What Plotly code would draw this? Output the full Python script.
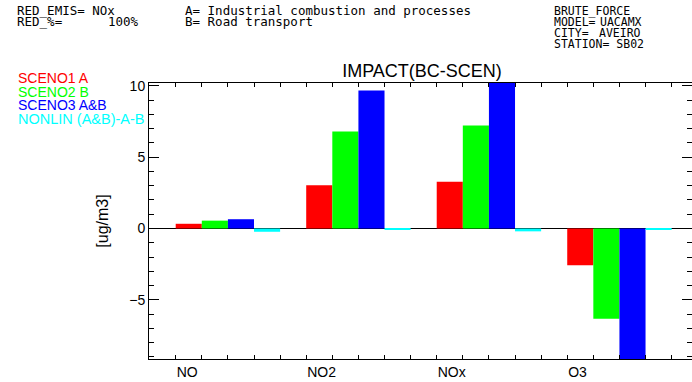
import plotly.graph_objects as go

# Species on the x axis and scenario impacts (BC - SCEN), ug/m3
species = ["NO", "NO2", "NOx", "O3"]
sceno1_a = [0.33, 3.03, 3.27, -2.57]
sceno2_b = [0.55, 6.80, 7.22, -6.32]
sceno3_ab = [0.65, 9.67, 10.2, -9.15]
nonlin = [-0.23, -0.05, -0.20, -0.05]

series_names = ["SCENO1 A", "SCENO2 B", "SCENO3 A&B", "NONLIN (A&B)-A-B"]
series_values = [sceno1_a, sceno2_b, sceno3_ab, nonlin]
series_colors = ["#ff0000", "#00ff00", "#0000ff", "#00ffff"]

y_ticks = [-5, 0, 5, 10]
y_range = [-9.15, 10.2]

W, H = 692, 382
L, R, T, B = 149, 692, 83, 359  # plot area in pixels

x_pos = list(range(len(species)))

fig = go.Figure()
for name, vals, col in zip(series_names, series_values, series_colors):
    fig.add_trace(go.Bar(x=x_pos, y=vals, name=name, marker_color=col,
                         marker_line_width=0, showlegend=False))

FONT = "Liberation Sans, Arial, sans-serif"
HEAD_FONT = "DejaVu Sans Mono, monospace"


def px_x(px):
    return (px - L) / (R - L)


def px_y(py):
    return (B - py) / (B - T)


ann = []
# header block: run settings (left) and station info (right)
header = [
    ("RED_EMIS= NOx", 15, 11, 12.5),
    ("RED_%=", 15, 22, 12.5),
    ("100%", 106, 22, 12.5),
    ("A= Industrial combustion and processes", 183, 11, 12.5),
    ("B= Road transport", 183, 22, 12.5),
    ("BRUTE_FORCE", 552, 11, 11.5),
    ("MODEL=", 552, 22, 11.5),
    ("UACAMX", 598, 22, 11.5),
    ("CITY=", 552, 33, 11.5),
    ("AVEIRO", 597, 33, 11.5),
    ("STATION= SB02", 552, 44, 11.5),
]
for txt, x, y, sz in header:
    ann.append(dict(text=txt, x=px_x(x), y=px_y(y), xref="paper", yref="paper",
                    xanchor="left", yanchor="middle", showarrow=False,
                    font=dict(family=HEAD_FONT, size=sz, color="black")))

# colour-coded series key
for i, (name, col) in enumerate(zip(series_names, series_colors)):
    ann.append(dict(text=name, x=px_x(16), y=px_y(78 + 13.5 * i), xref="paper", yref="paper",
                    xanchor="left", yanchor="middle", showarrow=False,
                    font=dict(family=FONT, size=14.5 if i == 3 else 14, color=col)))

fig.update_layout(
    width=W, height=H,
    margin=dict(l=L, r=W - R, t=T, b=H - B, pad=0),
    paper_bgcolor="white", plot_bgcolor="white",
    barmode="group", bargap=0.2, bargroupgap=0,
    title=dict(text="IMPACT(BC-SCEN)", x=px_x(422), xref="paper", xanchor="center",
               y=1 - 71 / H, yref="container", yanchor="middle",
               font=dict(family=FONT, size=18, color="black")),
    annotations=ann,
    font=dict(family=FONT, size=14, color="black"),
)

fig.update_xaxes(
    range=[-0.6046, 3.556],
    tickmode="array", tickvals=[p - 0.4 for p in x_pos], ticktext=species,
    ticklabelposition="outside right",
    ticks="inside", ticklen=4, tickcolor="black",
    minor=dict(ticks="inside", ticklen=4, tick0=-0.4, dtick=0.2, tickcolor="black"),
    showline=True, linecolor="black", linewidth=1, mirror="ticks",
    showgrid=False, zeroline=False,
    tickfont=dict(family=FONT, size=14, color="black"),
)
fig.update_yaxes(
    range=y_range,
    tickmode="array", tickvals=y_ticks,
    ticks="inside", ticklen=10, tickcolor="black",
    minor=dict(ticks="inside", ticklen=5, dtick=1, tick0=0, tickcolor="black"),
    showline=True, linecolor="black", linewidth=1, mirror="ticks",
    showgrid=False, zeroline=True, zerolinecolor="black", zerolinewidth=1,
    tickfont=dict(family=FONT, size=14, color="black"),
    title=dict(text="[ug/m3]", standoff=16, font=dict(family=FONT, size=16, color="black")),
)

fig.write_html("out.html")
